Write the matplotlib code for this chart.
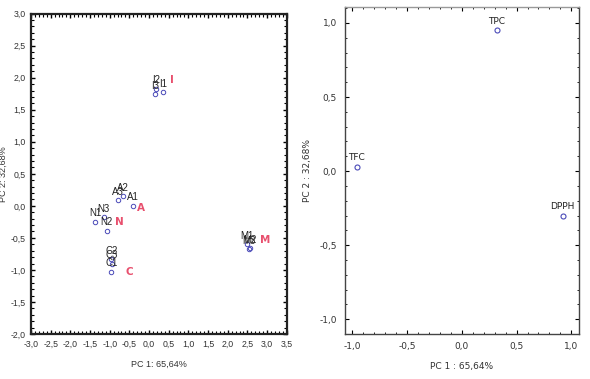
import matplotlib.pyplot as plt
from matplotlib.ticker import MultipleLocator, FuncFormatter

plt.rcParams['font.family'] = ['Liberation Sans', 'DejaVu Sans']

# score plot (samples)
sample_names = ['I1', 'I2', 'I3', 'A1', 'A2', 'A3', 'N1', 'N2', 'N3',
                'C1', 'C2', 'C3', 'M1', 'M2', 'M3']
pc1_scores = [0.35, 0.19, 0.16, -0.40, -0.66, -0.79, -1.37, -1.08, -1.15,
              -0.96, -0.96, -0.95, 2.48, 2.57, 2.55]
pc2_scores = [1.77, 1.83, 1.74, 0.00, 0.15, 0.09, -0.25, -0.39, -0.18,
              -1.03, -0.83, -0.90, -0.60, -0.66, -0.68]

group_names = ['I', 'A', 'N', 'C', 'M']
group_x = [0.59, -0.20, -0.76, -0.50, 2.94]
group_y = [1.96, -0.04, -0.25, -1.03, -0.53]

# loading plot (variables)
var_names = ['TPC', 'TFC', 'DPPH']
pc1_load = [0.32, -0.96, 0.92]
pc2_load = [0.95, 0.03, -0.30]

comma = FuncFormatter(lambda v, p: f"{v:.1f}".replace('.', ','))

fig = plt.figure(figsize=(5.9, 3.79), dpi=100)
ax1 = fig.add_axes([0.0525, 0.1187, 0.4335, 0.8453])
ax2 = fig.add_axes([0.585, 0.1187, 0.396, 0.863])

pt_color = '#4a4ab8'
red = '#e8506e'

ax1.plot(pc1_scores, pc2_scores, 'o', mfc='none', mec=pt_color, ms=3.2, mew=0.7)
for n, x, y in zip(sample_names, pc1_scores, pc2_scores):
    ax1.annotate(n, (x, y), xytext=(0, 2.5), textcoords='offset points',
                 ha='center', va='bottom', fontsize=7, color='#222222')
for n, x, y in zip(group_names, group_x, group_y):
    ax1.text(x, y, n, color=red, fontsize=7.5, fontweight='bold',
             family='DejaVu Sans', ha='center', va='center')

ax1.set_xlim(-3.0, 3.5)
ax1.set_ylim(-2.0, 3.0)
ax1.xaxis.set_major_locator(MultipleLocator(0.5))
ax1.yaxis.set_major_locator(MultipleLocator(0.5))
ax1.xaxis.set_minor_locator(MultipleLocator(0.1))
ax1.yaxis.set_minor_locator(MultipleLocator(0.1))
ax1.xaxis.set_major_formatter(comma)
ax1.yaxis.set_major_formatter(comma)
ax1.set_xlabel('PC 1: 65,64%', fontsize=6.5, color='#333333', labelpad=8)
ax1.set_ylabel('PC 2: 32,68%', fontsize=6.5, color='#333333', labelpad=2)
ax1.tick_params(which='both', direction='in', top=True, right=True,
                labelsize=6.3, labelcolor='#333333', pad=4)
ax1.tick_params(which='major', length=3, width=1)
ax1.tick_params(which='minor', length=2, width=0.8)
for s in ax1.spines.values():
    s.set_linewidth(1.6)
    s.set_color('#222222')

ax2.plot(pc1_load, pc2_load, 'o', mfc='none', mec=pt_color, ms=3.6, mew=0.8)
for n, x, y in zip(var_names, pc1_load, pc2_load):
    ax2.annotate(n, (x, y), xytext=(0, 3), textcoords='offset points',
                 ha='center', va='bottom', fontsize=6.5, color='#222222',
                 family='DejaVu Sans')

ax2.set_xlim(-1.065, 1.068)
ax2.set_ylim(-1.10, 1.108)
ax2.xaxis.set_major_locator(MultipleLocator(0.5))
ax2.yaxis.set_major_locator(MultipleLocator(0.5))
ax2.xaxis.set_minor_locator(MultipleLocator(0.1))
ax2.yaxis.set_minor_locator(MultipleLocator(0.1))
ax2.xaxis.set_major_formatter(comma)
ax2.yaxis.set_major_formatter(comma)
ax2.set_xlabel('PC 1 : 65,64%', fontsize=6.5, color='#333333', labelpad=8,
               family='DejaVu Sans')
ax2.set_ylabel('PC 2 : 32,68%', fontsize=6.5, color='#333333', labelpad=5,
               family='DejaVu Sans')
ax2.tick_params(which='both', direction='in', top=True, right=True,
                labelsize=6.5, labelcolor='#333333', pad=6)
ax2.tick_params(which='major', length=3, width=0.8)
ax2.tick_params(which='minor', length=1.5, width=0.6)
for lab in ax2.get_xticklabels() + ax2.get_yticklabels():
    lab.set_family('DejaVu Sans')
for s in ax2.spines.values():
    s.set_linewidth(1.0)
    s.set_color('#444444')
ax2.spines['top'].set_color('#999999')

fig.savefig('out.png', dpi=100)
